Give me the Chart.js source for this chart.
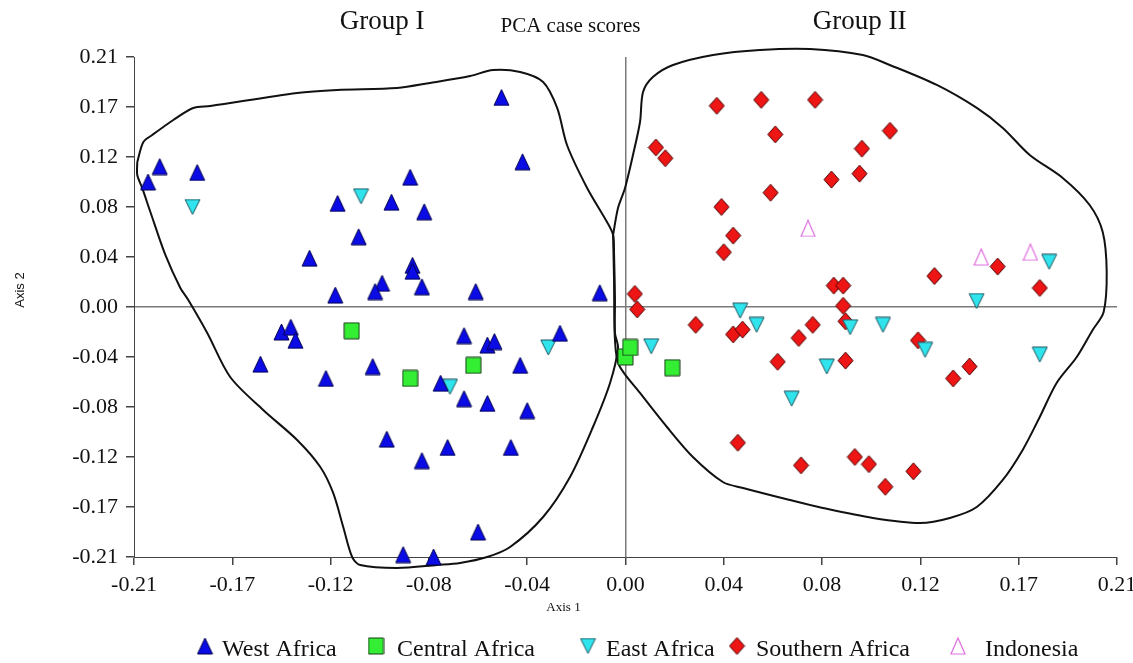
<!DOCTYPE html>
<html>
<head>
<meta charset="utf-8">
<title>PCA case scores</title>
<script src="https://cdn.jsdelivr.net/npm/chart.js@4.4.1/dist/chart.umd.min.js"></script>
<style>
  html, body { margin: 0; padding: 0; background: #ffffff; }
  #wrap { width: 1133px; height: 663px; }
</style>
</head>
<body>
<div id="wrap"><canvas id="pcaChart" width="1133" height="663"></canvas></div>
<script>
// Axis ticks (both axes use the same spacing and labels)
const tickValues = [-0.21, -0.168, -0.126, -0.084, -0.042, 0, 0.042, 0.084, 0.126, 0.168, 0.21];
const tickLabels = ['-0.21', '-0.17', '-0.12', '-0.08', '-0.04', '0.00', '0.04', '0.08', '0.12', '0.17', '0.21'];

// Region names, in legend order
const regions = ['West Africa', 'Central Africa', 'East Africa', 'Southern Africa', 'Indonesia'];

// Case scores [axis 1, axis 2]
const westAfrica = [
  [-0.204, 0.105], [-0.199, 0.118], [-0.183, 0.113], [-0.123, 0.087], [-0.100, 0.088],
  [-0.092, 0.109], [-0.086, 0.080], [-0.114, 0.059], [-0.135, 0.041], [-0.091, 0.035],
  [-0.091, 0.030], [-0.104, 0.020], [-0.107, 0.013], [-0.124, 0.010], [-0.087, 0.017],
  [-0.053, 0.176], [-0.044, 0.122], [-0.064, 0.013], [-0.011, 0.012], [-0.147, -0.021],
  [-0.143, -0.017], [-0.141, -0.028], [-0.156, -0.048], [-0.128, -0.060], [-0.108, -0.050],
  [-0.079, -0.064], [-0.069, -0.077], [-0.069, -0.024], [-0.102, -0.111], [-0.087, -0.129],
  [-0.076, -0.118], [-0.095, -0.208], [-0.082, -0.210], [-0.059, -0.032], [-0.056, -0.029],
  [-0.045, -0.049], [-0.028, -0.022], [-0.059, -0.081], [-0.042, -0.087], [-0.049, -0.118],
  [-0.063, -0.189]
];
const centralAfrica = [
  [-0.117, -0.020], [-0.092, -0.060], [-0.065, -0.049], [0.000, -0.042], [0.002, -0.034],
  [0.020, -0.051]
];
const eastAfrica = [
  [-0.185, 0.084], [-0.113, 0.093], [-0.075, -0.067], [-0.033, -0.034], [0.011, -0.033],
  [0.049, -0.003], [0.056, -0.015], [0.071, -0.077], [0.096, -0.017], [0.110, -0.015],
  [0.086, -0.050], [0.128, -0.036], [0.177, -0.040], [0.150, 0.005], [0.181, 0.038]
];
const southernAfrica = [
  [0.039, 0.169], [0.058, 0.174], [0.064, 0.145], [0.013, 0.134], [0.017, 0.125],
  [0.062, 0.096], [0.041, 0.084], [0.046, 0.060], [0.042, 0.046], [0.004, 0.011],
  [0.005, -0.002], [0.081, 0.174], [0.113, 0.148], [0.101, 0.133], [0.100, 0.112],
  [0.088, 0.107], [0.159, 0.034], [0.132, 0.026], [0.089, 0.018], [0.093, 0.018],
  [0.177, 0.016], [0.093, 0.001], [0.030, -0.015], [0.046, -0.023], [0.050, -0.019],
  [0.074, -0.026], [0.065, -0.046], [0.048, -0.114], [0.075, -0.133], [0.080, -0.015],
  [0.094, -0.012], [0.094, -0.045], [0.125, -0.028], [0.147, -0.050], [0.140, -0.060],
  [0.098, -0.126], [0.104, -0.132], [0.111, -0.151], [0.123, -0.138]
];
const indonesia = [
  [0.078, 0.066], [0.152, 0.042], [0.173, 0.046]
];

// Hand-drawn group outlines, in axis units
const groupOneOutline = [
  [-0.2086, 0.1218], [-0.2060, 0.1386], [-0.2022, 0.1445], [-0.1932, 0.1571], [-0.1847, 0.1672],
  [-0.1774, 0.1688], [-0.1403, 0.1798], [-0.1232, 0.1823], [-0.0976, 0.1840], [-0.0835, 0.1882],
  [-0.0664, 0.1940], [-0.0566, 0.1991], [-0.0450, 0.1974], [-0.0352, 0.1890], [-0.0292, 0.1672],
  [-0.0250, 0.1361], [-0.0164, 0.1000], [-0.0079, 0.0714], [-0.0053, 0.0605], [-0.0049, 0.0454],
  [-0.0045, 0.0059], [-0.0045, -0.0218], [-0.0032, -0.0344], [-0.0066, -0.0638], [-0.0139, -0.1008],
  [-0.0237, -0.1428], [-0.0352, -0.1764], [-0.0493, -0.2016], [-0.0591, -0.2100], [-0.0707, -0.2150],
  [-0.0805, -0.2167], [-0.0976, -0.2192], [-0.1134, -0.2167], [-0.1168, -0.2100], [-0.1206, -0.1848],
  [-0.1249, -0.1562], [-0.1304, -0.1344], [-0.1403, -0.1117], [-0.1548, -0.0865], [-0.1689, -0.0588],
  [-0.1787, -0.0218], [-0.1868, 0.0059], [-0.1902, 0.0160], [-0.1966, 0.0437], [-0.2030, 0.0798],
  [-0.2065, 0.1000], [-0.2086, 0.1109], [-0.2086, 0.1218]
];
const groupTwoOutline = [
  [-0.0053, 0.0605], [-0.0032, 0.0832], [-0.0002, 0.1000], [0.0032, 0.1277], [0.0062, 0.1554],
  [0.0075, 0.1806], [0.0117, 0.1932], [0.0203, 0.2033], [0.0374, 0.2117], [0.0574, 0.2159],
  [0.0788, 0.2167], [0.1014, 0.2117], [0.1129, 0.2033], [0.1330, 0.1865], [0.1501, 0.1672],
  [0.1612, 0.1504], [0.1727, 0.1277], [0.1868, 0.1084], [0.1983, 0.0857], [0.2039, 0.0630],
  [0.2056, 0.0294], [0.2043, -0.0042], [0.1996, -0.0193], [0.1928, -0.0420], [0.1842, -0.0638],
  [0.1770, -0.0924], [0.1697, -0.1201], [0.1612, -0.1453], [0.1501, -0.1680], [0.1386, -0.1772],
  [0.1258, -0.1814], [0.1057, -0.1772], [0.0843, -0.1688], [0.0702, -0.1621], [0.0502, -0.1520],
  [0.0416, -0.1470], [0.0288, -0.1260], [0.0177, -0.1008], [0.0062, -0.0722], [-0.0028, -0.0487],
  [-0.0045, -0.0277], [-0.0049, 0.0227], [-0.0053, 0.0605]
];

const toPoints = arr => arr.map(p => ({ x: p[0], y: p[1] }));
const serif = 'Liberation Serif';

// Marker glyphs drawn on small canvases so the box is centred on the point
function makeMarker(shape, w, h, fill, stroke, lw) {
    const c = document.createElement('canvas');
    c.width = w + 2;
    c.height = h + 2;
    const g = c.getContext('2d');
    const l = 1, t = 1, r = w + 1, b = h + 1, cx = (w + 2) / 2, cy = (h + 2) / 2;
    g.beginPath();
    if (shape === 'up') {
        g.moveTo(cx, t); g.lineTo(r, b); g.lineTo(l, b);
    } else if (shape === 'down') {
        g.moveTo(l, t); g.lineTo(r, t); g.lineTo(cx, b);
    } else if (shape === 'diamond') {
        g.moveTo(cx, t); g.lineTo(r, cy); g.lineTo(cx, b); g.lineTo(l, cy);
    } else {
        g.rect(l, t, w, h);
    }
    g.closePath();
    if (fill) {
        g.fillStyle = fill;
        g.fill();
    }
    g.lineWidth = lw;
    g.strokeStyle = stroke;
    g.stroke();
    return c;
}

const markers = [
    makeMarker('up', 15, 16, '#0b0be6', '#00004d', 1),
    makeMarker('square', 15, 16, '#33ee33', '#1b3d1b', 1),
    makeMarker('down', 15, 15, '#2fe4ec', '#1d5560', 1),
    makeMarker('diamond', 15, 17, '#ee1515', '#4a0000', 1),
    makeMarker('up', 14, 16, null, '#e070e0', 1.2)
];

function scatterSet(i, data) {
    return {
        label: regions[i],
        data: toPoints(data),
        pointStyle: markers[i],
        pointRadius: 8,
        clip: false,
        order: 0
    };
}

function outline(data) {
    return {
        type: 'line',
        label: '',
        data: toPoints(data),
        borderColor: '#111111',
        borderWidth: 2,
        pointRadius: 0,
        tension: 0.3,
        fill: false,
        clip: false,
        order: 1
    };
}

// Free text and the legend row under the plot
const textPlugin = {
    id: 'pcaText',
    afterDraw(chart) {
        const { ctx, scales } = chart;
        const x = scales.x;
        ctx.save();
        ctx.fillStyle = '#111111';
        ctx.textAlign = 'center';
        ctx.textBaseline = 'alphabetic';
        ctx.font = '27px "' + serif + '"';
        ctx.fillText('Group I', x.getPixelForValue(-0.104), 29);
        ctx.fillText('Group II', x.getPixelForValue(0.100), 29);
        ctx.font = '21px "' + serif + '"';
        ctx.fillText('PCA case scores', x.getPixelForValue(-0.0235), 32);
        ctx.font = '13px "' + serif + '"';
        ctx.fillText('Axis 1', x.getPixelForValue(-0.0265), 611);

        // legend: marker centre and text start for each region
        const markerX = [205, 376, 588, 737, 958];
        const textX = [222, 397, 606, 756, 985];
        ctx.textAlign = 'left';
        ctx.font = '24px "' + serif + '"';
        regions.forEach((name, i) => {
            Chart.helpers.drawPoint(ctx, { pointStyle: markers[i], radius: 8, rotation: 0, borderWidth: 0 }, markerX[i], 646);
            ctx.fillText(name, textX[i], 656);
        });

        ctx.translate(24, 290);
        ctx.rotate(-Math.PI / 2);
        ctx.textAlign = 'center';
        ctx.font = '13px "Liberation Sans"';
        ctx.fillText('Axis 2', 0, 0);
        ctx.restore();
    }
};

function axisOptions(isX) {
    return {
        type: 'linear',
        min: -0.21,
        max: 0.21,
        afterBuildTicks: axis => { axis.ticks = tickValues.map(v => ({ value: v })); },
        afterFit: scale => {
            if (isX) {
                scale.height = 106;
                scale.paddingLeft = 0;
                scale.paddingRight = 0;
            } else {
                scale.width = 134;
            }
        },
        ticks: {
            callback: (value, index) => tickLabels[index],
            font: { family: serif, size: 22 },
            color: '#111111',
            padding: isX ? 7 : 8,
            autoSkip: false,
            maxRotation: 0
        },
        grid: {
            color: c => (c.tick && c.tick.value === 0) ? '#7a7a7a' : 'rgba(0,0,0,0)',
            lineWidth: 1.5,
            tickColor: '#444444',
            tickLength: 8
        },
        border: { display: true, color: '#444444', width: 1 }
    };
}

const ctx = document.getElementById('pcaChart').getContext('2d');

new Chart(ctx, {
    type: 'scatter',
    data: {
        datasets: [
            scatterSet(0, westAfrica),
            scatterSet(1, centralAfrica),
            scatterSet(2, eastAfrica),
            scatterSet(3, southernAfrica),
            scatterSet(4, indonesia),
            outline(groupOneOutline),
            outline(groupTwoOutline)
        ]
    },
    options: {
        responsive: false,
        animation: false,
        events: [],
        layout: { padding: { top: 57, right: 16, left: 0, bottom: 0 } },
        scales: {
            x: axisOptions(true),
            y: axisOptions(false)
        },
        plugins: {
            tooltip: { enabled: false },
            legend: { display: false }
        }
    },
    plugins: [textPlugin]
});
</script>
</body>
</html>
